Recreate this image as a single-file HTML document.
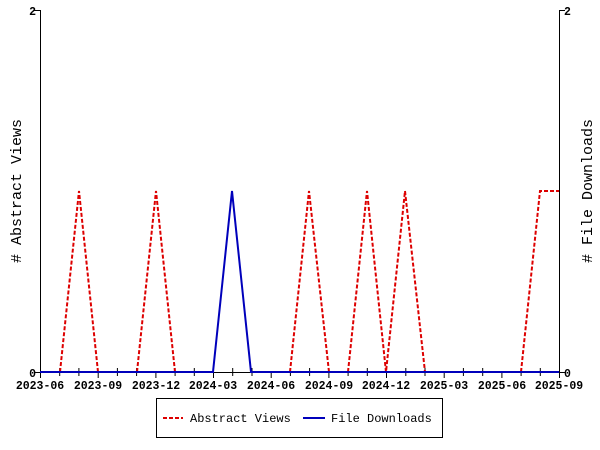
<!DOCTYPE html>
<html><head><meta charset="utf-8"><style>body{margin:0;background:#fff}svg{display:block}text{font-family:"Liberation Mono",monospace;font-weight:bold;font-size:11.5px;fill:#000}</style></head><body>
<svg width="600" height="450" viewBox="0 0 600 450">
<g stroke="#000" stroke-width="1" fill="none">
<line x1="40.5" y1="10" x2="40.5" y2="372"/>
<line x1="559.5" y1="10" x2="559.5" y2="372"/>
<line x1="40" y1="372.5" x2="560" y2="372.5"/>
<line x1="34" y1="10.5" x2="40" y2="10.5"/><line x1="34" y1="372.5" x2="40" y2="372.5"/>
<line x1="559" y1="10.5" x2="565" y2="10.5"/><line x1="559" y1="372.5" x2="565" y2="372.5"/>
<path d="M40.5 372V378M98.2 372V378M155.9 372V378M213.5 372V378M271.2 372V378M328.9 372V378M386.5 372V378M444.2 372V378M501.9 372V378M559.5 372V378"/>
<path d="M59.7 368V376M78.9 368V376M117.4 368V376M136.6 368V376M175.1 368V376M194.3 368V376M232.7 368V376M252 368V376M290.4 368V376M309.6 368V376M348.1 368V376M367.3 368V376M405.8 368V376M425 368V376M463.4 368V376M482.7 368V376M521.1 368V376M540.3 368V376"/>
</g>
<g fill="none" stroke="#d00" stroke-width="2" stroke-dasharray="4,2">
<polyline points="60,372 79,191 98,372"/>
<polyline points="137,372 156,191 175,372"/>
<polyline points="290,372 309,191 329,372"/>
<polyline points="348,372 367,191 386,372 405,191 425,372"/>
<polyline points="521,372 540,191 559,191"/>
</g>
<polyline fill="none" stroke="#00b" stroke-width="2" points="40,372 213,372 232,191 251,372 559,372"/>
<text x="36" y="15" text-anchor="end">2</text>
<text x="36" y="377" text-anchor="end">0</text>
<text x="564" y="15">2</text>
<text x="564" y="377">0</text>
<g text-anchor="middle">
<text x="40" y="389">2023-06</text><text x="98" y="389">2023-09</text><text x="156" y="389">2023-12</text><text x="213" y="389">2024-03</text><text x="271" y="389">2024-06</text><text x="329" y="389">2024-09</text><text x="386" y="389">2024-12</text><text x="444" y="389">2025-03</text><text x="502" y="389">2025-06</text><text x="559" y="389">2025-09</text>
</g>
<text transform="translate(21,191) rotate(-90)" text-anchor="middle" style="font-size:15px;font-weight:normal">#&#160;Abstract Views</text>
<text transform="translate(592,191) rotate(-90)" text-anchor="middle" style="font-size:15px;font-weight:normal">#&#160;File Downloads</text>
<rect x="156.5" y="398.5" width="286" height="39" fill="none" stroke="#000"/>
<line x1="163" y1="418" x2="183" y2="418" stroke="#d00" stroke-width="2" stroke-dasharray="4,2"/>
<text x="190" y="422" style="font-size:12px;font-weight:normal">Abstract Views</text>
<line x1="303" y1="418" x2="325" y2="418" stroke="#00b" stroke-width="2"/>
<text x="331" y="422" style="font-size:12px;font-weight:normal">File Downloads</text>
</svg>
</body></html>
